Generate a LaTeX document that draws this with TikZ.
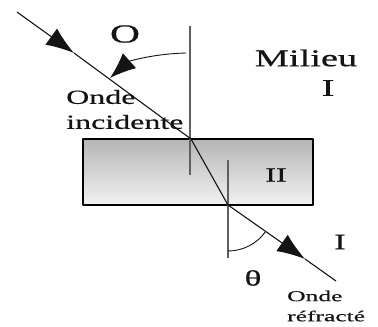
\documentclass[tikz,border=0pt]{standalone}
\usepackage{fontspec}
\setmainfont{Liberation Serif}
\newfontfamily\widefont[FakeStretch=1.6,FakeBold=0.6]{Liberation Serif}
\newfontfamily\smallwide[FakeStretch=1.7,FakeBold=0.6]{Liberation Serif}
\usetikzlibrary{arrows.meta,calc}
\definecolor{normalgray}{RGB}{95,95,95}
\definecolor{inkdark}{RGB}{20,20,20}

\begin{document}
\begin{tikzpicture}[x=1pt,y=-1pt,line join=round]
  \useasboundingbox (0,0) rectangle (378,327);
  % dioptre (milieu II)
  \coordinate (BL) at (83,139); \coordinate (TR) at (313,205);
  \shade[top color=gray!58,bottom color=gray!10] (BL) rectangle (TR);
  \draw[line width=1.3pt] (BL) rectangle (TR);
  % normales
  \coordinate (N1) at (190,26); \coordinate (N1b) at (190,175);
  \coordinate (N2) at (228,160); \coordinate (N2b) at (228,258);
  \draw[normalgray,line width=2.2pt] (N1)--(N1b);
  \draw[normalgray,line width=2.2pt] (N2)--(N2b);
  % rayon
  \coordinate (S) at (17,12); \coordinate (A) at (191,139);
  \coordinate (B) at (228,205); \coordinate (E) at (336,281);
  \coordinate (M1) at (74,53); \coordinate (M2) at (305,259);
  \draw[inkdark,line width=1.1pt,-{Latex[length=28pt,width=20pt]}] (S)--(M1);
  \draw[inkdark,line width=1.1pt] (M1)--(A)--(B);
  \draw[inkdark,line width=1.1pt,-{Latex[length=28pt,width=20pt]}] (B)--(M2);
  \draw[inkdark,line width=1.1pt] (M2)--(E);
  % angles
  \draw[inkdark,line width=0.9pt,-{Latex[length=26pt,width=20pt]}] (186,53) .. controls (150,54) and (128,62) .. (110,78);
  \draw[inkdark,line width=0.9pt] ($(B)+(0,46)$) arc (90:35.5:46);
  % textes
  \node[inkdark,font=\widefont\fontsize{26}{26}\selectfont] at (125,34) {O};
  \node[inkdark,font=\widefont\fontsize{24}{24}\selectfont] at (306,58) {Milieu};
  \node[inkdark,font=\widefont\fontsize{24}{24}\selectfont] at (328,88) {I};
  \node[inkdark,font=\widefont\fontsize{20}{20}\selectfont] at (276,175) {II};
  \node[inkdark,font=\widefont\fontsize{22}{22}\selectfont] at (340,242) {I};
  \node[inkdark,font=\widefont\fontsize{22}{22}\selectfont] at (253,278) {θ};
  \node[inkdark,anchor=west,inner sep=0pt,font=\widefont\fontsize{20}{20}\selectfont] at (66,97) {Onde};
  \node[inkdark,anchor=west,inner sep=0pt,font=\widefont\fontsize{20}{20}\selectfont] at (66,122) {incidente};
  \node[inkdark,anchor=west,inner sep=0pt,font=\smallwide\fontsize{15}{15}\selectfont] at (287,296) {Onde};
  \node[inkdark,anchor=west,inner sep=0pt,font=\smallwide\fontsize{15}{15}\selectfont] at (287,316) {réfracté};
\end{tikzpicture}
\end{document}
